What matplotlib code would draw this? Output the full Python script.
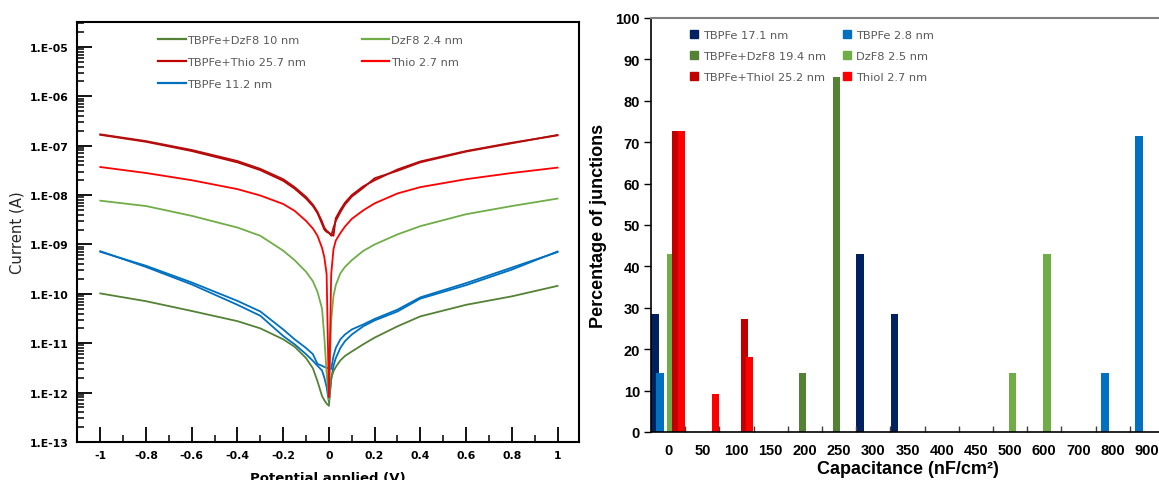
import numpy as np
import matplotlib
matplotlib.use("Agg")
import matplotlib.pyplot as plt
from matplotlib.ticker import LogLocator, FixedLocator, FuncFormatter, MultipleLocator, NullFormatter
from matplotlib.patches import Patch
from matplotlib.lines import Line2D

# ---- left panel: I-V curves ----
volt = [-1, -0.8, -0.6, -0.4, -0.3, -0.2, -0.15, -0.1, -0.07, -0.05, -0.03, -0.02, -0.01, 0,
        0.01, 0.02, 0.03, 0.05, 0.07, 0.1, 0.15, 0.2, 0.3, 0.4, 0.6, 0.8, 1]

i_dzf8_tbpfe = [1.02e-10, 7.1e-11, 4.5e-11, 2.8e-11, 2.0e-11, 1.2e-11, 8.5e-12, 5.0e-12, 3.1e-12, 1.7e-12,
                8.5e-13, 7.0e-13, 6.0e-13, 5.4e-13,
                2.0e-12, 2.7e-12, 3.3e-12, 4.5e-12, 5.5e-12, 6.8e-12, 9.5e-12, 1.3e-11, 2.2e-11, 3.5e-11,
                6.0e-11, 8.9e-11, 1.45e-10]
i_dzf8 = [7.7e-9, 6.0e-9, 3.8e-9, 2.2e-9, 1.5e-9, 7.5e-10, 4.8e-10, 2.8e-10, 1.8e-10, 1.1e-10,
          5e-11, 1.3e-11, 2.5e-12, 7.2e-13,
          3e-11, 9e-11, 1.5e-10, 2.6e-10, 3.5e-10, 4.8e-10, 7.4e-10, 1.0e-9, 1.6e-9, 2.35e-9,
          4.1e-9, 6.0e-9, 8.5e-9]
i_thio_tbpfe_a = [1.66e-7, 1.20e-7, 7.8e-8, 4.6e-8, 3.2e-8, 1.95e-8, 1.35e-8, 8.5e-9, 6.0e-9, 4.3e-9,
                  2.6e-9, 2.0e-9, 1.8e-9, 1.7e-9,
                  1.6e-9, 1.5e-9, 3.4e-9, 5.0e-9, 7.0e-9, 1.0e-8, 1.5e-8, 2.0e-8, 3.3e-8, 4.8e-8,
                  7.8e-8, 1.15e-7, 1.62e-7]
i_thio_tbpfe_b = [1.70e-7, 1.24e-7, 8.2e-8, 4.9e-8, 3.4e-8, 2.1e-8, 1.45e-8, 9.2e-9, 6.4e-9, 4.6e-9,
                  2.9e-9, 2.2e-9, 1.9e-9, 1.75e-9,
                  1.5e-9, 2.2e-9, 3.0e-9, 4.5e-9, 6.4e-9, 9.3e-9, 1.4e-8, 2.2e-8, 3.1e-8, 4.6e-8,
                  7.6e-8, 1.12e-7, 1.65e-7]
i_thio = [3.7e-8, 2.8e-8, 2.0e-8, 1.32e-8, 9.8e-9, 6.6e-9, 4.8e-9, 3.0e-9, 2.1e-9, 1.5e-9,
          8.5e-10, 5.5e-10, 2.5e-10, 8e-13,
          2.5e-10, 8e-10, 1.2e-9, 1.7e-9, 2.3e-9, 3.3e-9, 4.9e-9, 6.8e-9, 1.08e-8, 1.45e-8,
          2.1e-8, 2.8e-8, 3.6e-8]
i_tbpfe_a = [7.1e-10, 3.7e-10, 1.7e-10, 7.2e-11, 4.4e-11, 1.9e-11, 1.2e-11, 8.0e-12, 6.0e-12, 3.8e-12,
             3.5e-12, 3.3e-12, 3.2e-12, 3.1e-12,
             3.0e-12, 5.5e-12, 8e-12, 1.2e-11, 1.5e-11, 1.9e-11, 2.4e-11, 3.1e-11, 4.8e-11, 8.5e-11,
             1.65e-10, 3.4e-10, 7.0e-10]
i_tbpfe_b = [7.3e-10, 3.5e-10, 1.55e-10, 6.0e-11, 3.6e-11, 1.4e-11, 9.5e-12, 6.0e-12, 4.4e-12, 3.5e-12,
             2.8e-12, 2.0e-12, 1.3e-12, 6.5e-13,
             1.8e-12, 3.5e-12, 5e-12, 8e-12, 1.1e-11, 1.5e-11, 2.2e-11, 2.9e-11, 4.4e-11, 8.0e-11,
             1.5e-10, 3.1e-10, 7.2e-10]

# ---- right panel: capacitance histogram ----
cap_bins = ["0", "50", "100", "150", "200", "250", "300", "350", "400", "450",
            "500", "600", "700", "800", "900"]
pct_tbpfe_thick = [28.6, 0, 0, 0, 0, 0, 42.9, 28.6, 0, 0, 0, 0, 0, 0, 0]
pct_tbpfe_thin = [14.3, 0, 0, 0, 0, 0, 0, 0, 0, 0, 0, 0, 0, 14.3, 71.4]
pct_tbpfe_dzf8 = [0, 0, 0, 0, 14.3, 85.7, 0, 0, 0, 0, 0, 0, 0, 0, 0]
pct_dzf8 = [42.9, 0, 0, 0, 0, 0, 0, 0, 0, 0, 14.3, 42.9, 0, 0, 0]
pct_tbpfe_thiol = [72.7, 0, 27.3, 0, 0, 0, 0, 0, 0, 0, 0, 0, 0, 0, 0]
pct_thiol = [72.7, 9.1, 18.2, 0, 0, 0, 0, 0, 0, 0, 0, 0, 0, 0, 0]

bar_series = [
    ("TBPFe 17.1 nm", pct_tbpfe_thick, "#002060"),
    ("TBPFe 2.8 nm", pct_tbpfe_thin, "#0070C0"),
    ("TBPFe+DzF8 19.4 nm", pct_tbpfe_dzf8, "#548235"),
    ("DzF8 2.5 nm", pct_dzf8, "#70AD47"),
    ("TBPFe+Thiol 25.2 nm", pct_tbpfe_thiol, "#C00000"),
    ("Thiol 2.7 nm", pct_thiol, "#FF0000"),
]

fig = plt.figure(figsize=(11.59, 4.81), dpi=100)

# ================= left =================
ax1 = fig.add_axes([77/1159, 38/481, 502/1159, 420/481])
ax1.plot(volt, i_tbpfe_a, color="#0070C0", lw=1.3)
ax1.plot(volt, i_tbpfe_b, color="#0070C0", lw=1.3)
ax1.plot(volt, i_dzf8_tbpfe, color="#548235", lw=1.3)
ax1.plot(volt, i_dzf8, color="#70AD47", lw=1.3)
ax1.plot(volt, i_thio_tbpfe_a, color="#C00000", lw=1.3)
ax1.plot(volt, i_thio_tbpfe_b, color="#B01010", lw=1.3)
ax1.plot(volt, i_thio, color="#FF0000", lw=1.3)

ax1.set_yscale("log")
ax1.set_ylim(1e-13, 3.2e-5)
ax1.set_xlim(-1.102, 1.094)
ax1.yaxis.set_major_locator(FixedLocator([10.0**e for e in range(-13, -4)]))
ax1.yaxis.set_minor_locator(LogLocator(base=10, subs=np.arange(2, 10)))
ax1.yaxis.set_minor_formatter(NullFormatter())
ax1.yaxis.set_major_formatter(FuncFormatter(lambda v, p: "1.E-%02d" % round(-np.log10(v))))
ax1.xaxis.set_major_locator(MultipleLocator(0.2))
ax1.xaxis.set_minor_locator(MultipleLocator(0.1))
ax1.xaxis.set_major_formatter(FuncFormatter(lambda v, p: "%g" % round(v, 1)))
ax1.tick_params(which="major", direction="in", length=11, width=1.3, labelsize=7.8, pad=6)
ax1.tick_params(which="minor", direction="in", length=5, width=1.1)
for t in ax1.get_xticklabels() + ax1.get_yticklabels():
    t.set_fontweight("bold")
for s in ax1.spines.values():
    s.set_linewidth(1.5)
ax1.set_ylabel("Current (A)", fontsize=10.7, color="#262626", labelpad=4)
ax1.set_xlabel("Potential applied (V)", fontsize=9.5, fontweight="bold", labelpad=8)

h1 = [Line2D([], [], color=c, lw=1.6) for c in ["#548235", "#70AD47", "#C00000", "#FF0000", "#0070C0"]]
l1 = ["TBPFe+DzF8 10 nm", "DzF8 2.4 nm", "TBPFe+Thio 25.7 nm", "Thio 2.7 nm", "TBPFe 11.2 nm"]
# reorder so that ncol=2 fills row-wise
order = [0, 2, 4, 1, 3]
leg1 = ax1.legend([h1[i] for i in order], [l1[i] for i in order], ncol=2, frameon=False,
                  loc="upper left", bbox_to_anchor=(148/1159, 1 - 26/481), bbox_transform=fig.transFigure,
                  fontsize=8.2, handlelength=2.4, handletextpad=0.15, columnspacing=4.9, labelspacing=1.03)
for t in leg1.get_texts():
    t.set_color("#595959")

# ================= right =================
ax2 = fig.add_axes([651/1159, 48/481, 513/1159, 414/481])
cats = np.arange(len(cap_bins))
for k, (name, vals, col) in enumerate(bar_series):
    ax2.bar(cats - 0.5 + 0.005 + k * 0.154, vals, width=0.22, align="edge", color=col, label=name)

ax2.set_xlim(-0.5, len(cap_bins) - 0.5)
ax2.set_ylim(0, 100)
ax2.set_xticks(cats)
ax2.set_xticklabels(cap_bins)
ax2.set_xticks(cats[:-1] + 0.5, minor=True)
ax2.yaxis.set_major_locator(MultipleLocator(10))
ax2.tick_params(axis="x", which="major", length=0, labelsize=10.5, pad=8)
ax2.tick_params(axis="x", which="minor", direction="in", length=4, width=1, color="#404040")
ax2.tick_params(axis="y", which="major", direction="out", length=5, width=1, labelsize=10.5, pad=3)
for t in ax2.get_xticklabels() + ax2.get_yticklabels():
    t.set_fontweight("bold")
    t.set_fontfamily("Liberation Sans")
ax2.spines["top"].set_color("#7F7F7F")
ax2.spines["top"].set_linewidth(1.5)
ax2.spines["left"].set_linewidth(1.2)
ax2.spines["bottom"].set_linewidth(1.2)
ax2.set_ylabel("Percentage of junctions", fontsize=13, fontweight="bold", family="Liberation Sans", labelpad=6)
ax2.set_xlabel("Capacitance (nF/cm²)", fontsize=13, fontweight="bold", family="Liberation Sans", labelpad=2)

h2 = [Patch(color=c) for _, _, c in bar_series]
l2 = [n for n, _, _ in bar_series]
order2 = [0, 2, 4, 1, 3, 5]
leg2 = ax2.legend([h2[i] for i in order2], [l2[i] for i in order2], ncol=2, frameon=False,
                  loc="upper left", bbox_to_anchor=(680/1159, 1 - 21/481), bbox_transform=fig.transFigure,
                  fontsize=8.2, handlelength=0.7, handleheight=0.7, handletextpad=0.4,
                  columnspacing=1.55, labelspacing=0.97)
for t in leg2.get_texts():
    t.set_color("#595959")

fig.savefig("out.png", dpi=100)
